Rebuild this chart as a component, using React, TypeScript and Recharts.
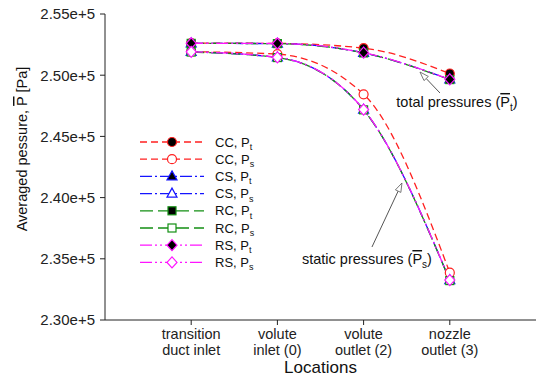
import React from 'react';
import { LineChart, Line, XAxis, YAxis, Legend, ReferenceLine, Label } from 'recharts';

// locations along the flow path (x = 1..4 on a 0..5 axis)
const locations = ['transition\nduct inlet', 'volute\ninlet (0)', 'volute\noutlet (2)', 'nozzle\noutlet (3)'];
const positions = [1, 2, 3, 4];

// averaged pressures [Pa]
const ccTotal = [252620, 252600, 252210, 250140];
const ccStatic = [251920, 251720, 248440, 233870];
const csTotal = [252600, 252580, 251830, 249650];
const csStatic = [251900, 251450, 247180, 233250];
const rcTotal = [252600, 252580, 251820, 249640];
const rcStatic = [251890, 251440, 247170, 233220];
const rsTotal = [252610, 252590, 251840, 249660];
const rsStatic = [251910, 251460, 247190, 233260];

const yTicks = [230000, 235000, 240000, 245000, 250000, 255000];

// arrow annotations (data coords: tail -> tip)
const totalArrow = [{ x: 3.886, y: 248546 }, { x: 3.654, y: 250261 }];
const staticArrow = [{ x: 3.097, y: 235964 }, { x: 3.445, y: 241193 }];

const data = positions.map((x, i) => ({
    x,
    ccT: ccTotal[i], ccS: ccStatic[i],
    csT: csTotal[i], csS: csStatic[i],
    rcT: rcTotal[i], rcS: rcStatic[i],
    rsT: rsTotal[i], rsS: rsStatic[i],
}));

type Shape = 'circle' | 'triangle' | 'square' | 'diamond';

const series: { key: string; name: string; sub: string; color: string; dash: string; shape: Shape; filled: boolean }[] = [
    { key: 'ccT', name: 'CC', sub: 't', color: '#ff2020', dash: '7 4', shape: 'circle', filled: true },
    { key: 'ccS', name: 'CC', sub: 's', color: '#ff2020', dash: '7 4', shape: 'circle', filled: false },
    { key: 'csT', name: 'CS', sub: 't', color: '#1414ff', dash: '12 3 2 3', shape: 'triangle', filled: true },
    { key: 'csS', name: 'CS', sub: 's', color: '#1414ff', dash: '12 3 2 3', shape: 'triangle', filled: false },
    { key: 'rcT', name: 'RC', sub: 't', color: '#138f13', dash: '13 5', shape: 'square', filled: true },
    { key: 'rcS', name: 'RC', sub: 's', color: '#138f13', dash: '13 5', shape: 'square', filled: false },
    { key: 'rsT', name: 'RS', sub: 't', color: '#ff14ff', dash: '12 3 2 3 2 3', shape: 'diamond', filled: true },
    { key: 'rsS', name: 'RS', sub: 's', color: '#ff14ff', dash: '12 3 2 3 2 3', shape: 'diamond', filled: false },
];

const FONT = '"Liberation Sans", Arial, sans-serif';

const Marker = ({ cx, cy, shape, filled, color }: { cx: number; cy: number; shape: Shape; filled: boolean; color: string }) => {
    const fill = filled ? '#000' : '#fff';
    const common = { fill, stroke: color, strokeWidth: 1.2 };
    if (shape === 'circle') return <circle cx={cx} cy={cy} r={4.5} {...common} />;
    if (shape === 'triangle') return <polygon points={`${cx},${cy - 5.5} ${cx + 5},${cy + 3.5} ${cx - 5},${cy + 3.5}`} {...common} />;
    if (shape === 'square') return <rect x={cx - 4} y={cy - 4} width={8} height={8} {...common} />;
    return <polygon points={`${cx},${cy - 5.5} ${cx + 5},${cy} ${cx},${cy + 5.5} ${cx - 5},${cy}`} {...common} />;
};

const XTick = ({ x, y, payload }: any) => {
    const lines = locations[payload.value - 1].split('\n');
    return (
        <text x={x} y={y} textAnchor="middle" fontSize={14.5} fill="#222" fontFamily={FONT}>
            {lines.map((l, i) => (
                <tspan key={i} x={x} dy={i === 0 ? 12 : 16}>{l}</tspan>
            ))}
        </text>
    );
};

const arrowShape = (label: string, sub: string, dx: number, dy: number) => (p: any) => {
    const { x1, y1, x2, y2 } = p;
    const a = Math.atan2(y2 - y1, x2 - x1);
    const len = 9, w = 3;
    const bx = x2 - len * Math.cos(a), by = y2 - len * Math.sin(a);
    const head = `${x2},${y2} ${bx + w * Math.sin(a)},${by - w * Math.cos(a)} ${bx - w * Math.sin(a)},${by + w * Math.cos(a)}`;
    return (
        <g>
            <line x1={x1} y1={y1} x2={bx} y2={by} stroke="#555" strokeWidth={1} />
            <polygon points={head} fill="#fff" stroke="#555" strokeWidth={0.8} />
            <text x={x1 + dx} y={y1 + dy} textAnchor="middle" fontSize={14.5} fill="#111" fontFamily={FONT}>
                {label} (
                <tspan style={{ textDecoration: 'overline' }}>P</tspan>
                <tspan fontSize={10} dy={4}>{sub}</tspan>
                <tspan dy={-4}>)</tspan>
            </text>
        </g>
    );
};

const LegendBox = () => (
    <svg width={130} height={140} style={{ display: 'block' }}>
        {series.map((s, i) => {
            const cy = 8 + i * 17.2;
            return (
                <g key={s.key}>
                    <line x1={0} x2={64} y1={cy} y2={cy} stroke={s.color} strokeWidth={1.3} strokeDasharray={s.dash} />
                    <Marker cx={32} cy={cy} shape={s.shape} filled={s.filled} color={s.color} />
                    <text x={75} y={cy + 4.5} fontSize={13} fill="#111" fontFamily={FONT}>
                        {s.name}, P
                        <tspan fontSize={9} dy={3.5}>{s.sub}</tspan>
                    </text>
                </g>
            );
        })}
    </svg>
);

export default function App() {
    return (
        <div style={{ position: 'absolute', left: 0, top: 0, background: '#fff' }}>
            <LineChart width={536} height={391} data={data} margin={{ top: 14, right: 0, left: 0, bottom: 0 }}>
                <XAxis
                    dataKey="x"
                    type="number"
                    domain={[0, 5]}
                    ticks={positions}
                    tick={<XTick />}
                    tickSize={5}
                    tickMargin={2}
                    height={71}
                    stroke="#222"
                    interval={0}
                >
                    <Label
                        content={({ viewBox }: any) => (
                            <text x={viewBox.x + viewBox.width / 2} y={373} textAnchor="middle" fontSize={17} fill="#111" fontFamily={FONT}>
                                Locations
                            </text>
                        )}
                    />
                </XAxis>
                <YAxis
                    type="number"
                    domain={[230000, 255000]}
                    ticks={yTicks}
                    width={105}
                    tickSize={5}
                    tickMargin={5}
                    stroke="#222"
                    tick={{ fontSize: 15, fill: '#222', fontFamily: FONT }}
                    tickFormatter={(v: number) => `${(v / 1e5).toFixed(2)}e+5`}
                    interval={0}
                >
                    <Label
                        content={() => (
                            <text x={27} y={149} transform="rotate(-90 27 149)" textAnchor="middle" fontSize={14.5} fill="#111" fontFamily={FONT}>
                                Averaged pessure, <tspan style={{ textDecoration: 'overline' }}>P</tspan> [Pa]
                            </text>
                        )}
                    />
                </YAxis>
                <Legend
                    layout="vertical"
                    align="center"
                    verticalAlign="middle"
                    content={() => <LegendBox />}
                    wrapperStyle={{ position: 'absolute', left: 140, top: 134, width: 130, height: 140 }}
                />
                {series.map((s) => (
                    <Line
                        key={s.key}
                        dataKey={s.key}
                        type="monotone"
                        stroke={s.color}
                        strokeWidth={1.3}
                        strokeDasharray={s.dash}
                        isAnimationActive={false}
                        dot={(p: any) => (
                            <Marker key={`${s.key}-${p.index}`} cx={p.cx} cy={p.cy} shape={s.shape} filled={s.filled} color={s.color} />
                        )}
                        activeDot={false}
                    />
                ))}
                <ReferenceLine segment={totalArrow} shape={arrowShape('total pressures', 't', 17, 14)} />
                <ReferenceLine segment={staticArrow} shape={arrowShape('static pressures', 's', -5, 17)} />
            </LineChart>
        </div>
    );
}
